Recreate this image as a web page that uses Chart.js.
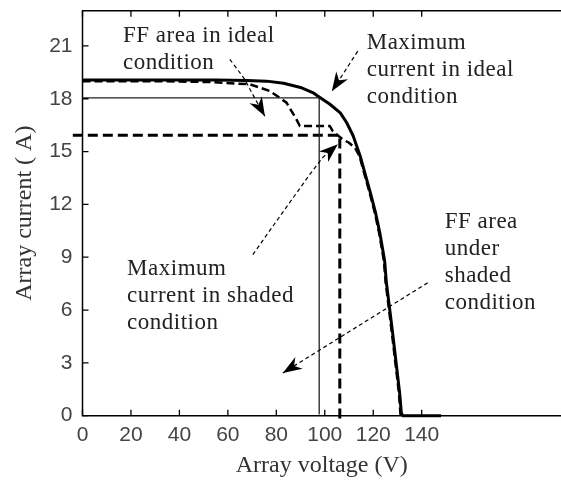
<!DOCTYPE html>
<html>
<head>
<meta charset="utf-8">
<script src="https://cdn.jsdelivr.net/npm/chart.js@4.4.0/dist/chart.umd.min.js"></script>
<style>
  html, body { margin: 0; padding: 0; background: #fff; }
  #wrap { width: 561px; height: 480px; }
</style>
</head>
<body>
<div id="wrap"><canvas id="grafico"></canvas></div>
<script>
// Valores dos eixos
const xTicks = [0, 20, 40, 60, 80, 100, 120, 140];
const yTicks = [0, 3, 6, 9, 12, 15, 18, 21];

// Curva I-V em condição ideal (V, A)
const idealV = [0, 30, 55, 68, 76, 83, 90, 95, 98, 102, 106.4, 109, 111.7, 114.6, 118.8, 121, 122.7, 124.7, 125.4, 128, 130.9, 131.6, 132.2, 148];
const idealI = [19.07, 19.07, 19.06, 19.04, 19.0, 18.88, 18.64, 18.35, 18.07, 17.7, 17.2, 16.65, 15.9, 14.75, 12.67, 11.5, 10.4, 8.8, 7.6, 4.7, 1.3, 0.15, 0, 0];

// Curva I-V em condição de sombreamento
const shadedV = [0, 30, 52.6, 69.1, 77.3, 84.2, 88.3, 89.7, 102.1, 103.3, 107.4, 110, 112.5, 114.3, 118.5, 120.7, 122.4, 124.4, 125.1, 127.7, 130.6, 131.3];
const shadedI = [19.0, 19.0, 18.95, 18.82, 18.44, 17.78, 16.83, 16.45, 16.45, 16.16, 15.69, 15.5, 15.2, 14.75, 12.67, 11.5, 10.4, 8.8, 7.6, 4.7, 1.3, 0];

// Retângulos de FF (ponto de máxima potência)
const ffIdealV = [0, 97.7, 97.7];
const ffIdealI = [18.05, 18.05, 0.1];
const ffShadedV = [-4, 106.2, 106.2];
const ffShadedI = [15.92, 15.92, -0.3];

// Textos das anotações: [V, I] da primeira linha
const textos = [
  { at: [16.7, 21.2], linhas: ['FF area in ideal', 'condition'] },
  { at: [117.3, 20.8], linhas: ['Maximum', 'current in ideal', 'condition'] },
  { at: [18.4, 8.0], linhas: ['Maximum', 'current in shaded', 'condition'] },
  { at: [149.5, 10.68], linhas: ['FF area', 'under', 'shaded', 'condition'] }
];

// Setas: caminho em [V, I], último ponto é a ponta
const setas = [
  [[60.8, 20.24], [67.0, 19.1], [69.8, 18.36], [75.3, 17.0]],
  [[113.6, 20.7], [102.9, 18.42]],
  [[70.3, 9.15], [81.4, 11.31], [93.8, 13.7], [99.2, 14.67], [105.4, 15.41]],
  [[142.5, 7.55], [82.7, 2.43]]
];

const pares = (vs, is) => vs.map((v, i) => ({ x: v, y: is[i] }));

function ponta(ctx, x0, y0, x1, y1) {
  const ang = Math.atan2(y1 - y0, x1 - x0);
  const len = 19, half = 7;
  ctx.beginPath();
  ctx.moveTo(x1, y1);
  ctx.lineTo(x1 - len * Math.cos(ang) + half * Math.sin(ang), y1 - len * Math.sin(ang) - half * Math.cos(ang));
  ctx.lineTo(x1 - len * 0.7 * Math.cos(ang), y1 - len * 0.7 * Math.sin(ang));
  ctx.lineTo(x1 - len * Math.cos(ang) - half * Math.sin(ang), y1 - len * Math.sin(ang) + half * Math.cos(ang));
  ctx.closePath();
  ctx.fill();
}

const anotacoes = {
  id: 'anotacoes',
  afterDatasetsDraw(chart) {
    const { ctx, chartArea: a, scales: { x, y } } = chart;
    ctx.save();
    // moldura
    ctx.strokeStyle = '#000';
    ctx.lineWidth = 1.5;
    ctx.beginPath();
    ctx.moveTo(a.right + 2, a.top);
    ctx.lineTo(a.left, a.top);
    ctx.lineTo(a.left, a.bottom);
    ctx.lineTo(a.right + 2, a.bottom);
    ctx.stroke();
    // marcas para dentro
    ctx.lineWidth = 1.3;
    ctx.beginPath();
    xTicks.forEach(v => {
      const px = x.getPixelForValue(v);
      ctx.moveTo(px, a.bottom); ctx.lineTo(px, a.bottom - 6);
      ctx.moveTo(px, a.top); ctx.lineTo(px, a.top + 6);
    });
    yTicks.forEach(v => {
      const py = y.getPixelForValue(v);
      ctx.moveTo(a.left, py); ctx.lineTo(a.left + 6, py);
    });
    ctx.stroke();

    // setas
    ctx.fillStyle = '#000';
    ctx.lineWidth = 1.2;
    setas.forEach(s => {
      const pts = s.map(p => [x.getPixelForValue(p[0]), y.getPixelForValue(p[1])]);
      ctx.setLineDash([4, 3]);
      ctx.beginPath();
      pts.forEach((p, i) => i ? ctx.lineTo(p[0], p[1]) : ctx.moveTo(p[0], p[1]));
      ctx.stroke();
      ctx.setLineDash([]);
      const n = pts.length;
      ponta(ctx, pts[n - 2][0], pts[n - 2][1], pts[n - 1][0], pts[n - 1][1]);
    });

    // textos
    ctx.font = '23px "Liberation Serif"';
    ctx.fillStyle = '#222';
    ctx.textAlign = 'left';
    ctx.textBaseline = 'alphabetic';
    ctx.letterSpacing = '0.5px';
    textos.forEach(t => {
      const px = x.getPixelForValue(t.at[0]);
      const py = y.getPixelForValue(t.at[1]);
      t.linhas.forEach((l, i) => ctx.fillText(l, px, py + i * 27));
    });
    ctx.restore();
  }
};

const linha = (dados, largura, traco, cor) => ({
  data: dados,
  showLine: true,
  borderColor: cor,
  borderWidth: largura,
  borderDash: traco,
  pointRadius: 0,
  fill: false,
  tension: 0,
  borderJoinStyle: 'round',
  clip: false
});

new Chart(document.getElementById('grafico'), {
  type: 'scatter',
  data: {
    datasets: [
      linha(pares(ffIdealV, ffIdealI), 1.3, [], '#222'),
      linha(pares(ffShadedV, ffShadedI), 3, [10, 5], '#000'),
      linha(pares(shadedV, shadedI), 2.5, [8, 4], '#000'),
      linha(pares(idealV, idealI), 3, [], '#000')
    ]
  },
  options: {
    responsive: true,
    maintainAspectRatio: false,
    animation: false,
    layout: { padding: { top: 10.7, right: 0, left: 0, bottom: 0 } },
    plugins: { legend: { display: false }, tooltip: { enabled: false } },
    scales: {
      x: {
        type: 'linear',
        min: 0,
        max: 197.5,
        grid: { display: false, drawTicks: false },
        border: { display: false },
        afterBuildTicks: s => { s.ticks = xTicks.map(v => ({ value: v })); },
        afterFit: s => { s.height = 64.3; s.paddingLeft = 0; s.paddingRight = 0; },
        ticks: { padding: 7, color: '#444', font: { family: 'Liberation Sans', size: 21 } },
        title: { display: true, text: 'Array voltage (V)', color: '#333',
                 font: { family: 'Liberation Serif', size: 24 }, padding: { top: 0, bottom: 0 } }
      },
      y: {
        type: 'linear',
        min: 0,
        max: 23,
        grid: { display: false, drawTicks: false },
        border: { display: false },
        afterBuildTicks: s => { s.ticks = yTicks.map(v => ({ value: v })); },
        afterFit: s => { s.width = 82.5; s.paddingTop = 0; s.paddingBottom = 0; },
        ticks: { padding: 10, color: '#444', font: { family: 'Liberation Sans', size: 21 } },
        title: { display: true, text: 'Array current ( A)', color: '#333',
                 font: { family: 'Liberation Serif', size: 24 }, padding: { top: 10, bottom: 0 } }
      }
    }
  },
  plugins: [anotacoes]
});
</script>
</body>
</html>
